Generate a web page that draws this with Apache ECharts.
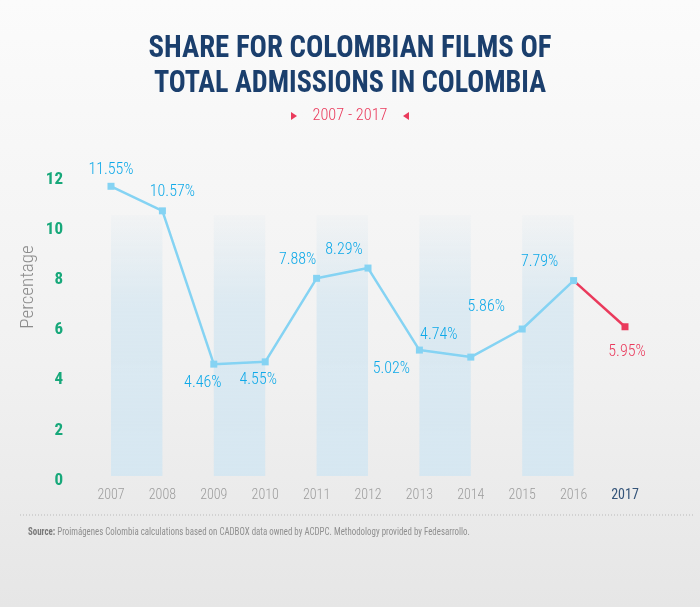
<!DOCTYPE html>
<html>
<head>
<meta charset="utf-8">
<script src="https://cdn.jsdelivr.net/npm/echarts@6/dist/echarts.min.js"></script>
<style>
  html, body { margin: 0; padding: 0; }
  #chart {
    width: 700px; height: 607px;
    background: linear-gradient(to bottom, #fbfbfb 0%, #f1f1f1 60%, #e6e6e6 100%);
  }
</style>
</head>
<body>
<div id="chart"></div>
<script>
// data
var years = ['2007', '2008', '2009', '2010', '2011', '2012', '2013', '2014', '2015', '2016', '2017'];
var shareMain = [11.55, 10.57, 4.46, 4.55, 7.88, 8.29, 5.02, 4.74, 5.86, 7.79, null];
var share2017 = [null, null, null, null, null, null, null, null, null, 7.79, 5.95];
var bandPairs = [['2007', '2008'], ['2009', '2010'], ['2011', '2012'], ['2013', '2014'], ['2015', '2016']];
var yTicks = { min: 0, max: 12, step: 2 };

// label placement (style only)
var labelPos = ['top', 'top', 'bottom', 'bottom', 'top', 'top', 'bottom', 'top', 'top', 'top', 'bottom'];
var labelOff = [[0, 0], [10, -2], [-11, 2], [-7, 2], [-19, -2], [-24, -2], [-28, 2], [-32, -6], [-36, -6], [-34, -2], [2, 9]];

var condensed = '"Roboto Condensed", "DejaVu Sans Condensed", sans-serif';
var blue = '#85d3f3';
var labelBlue = '#0fa9e8';
var red = '#ea3a5c';

var titleFont = 'bold 32px ' + condensed;
var subFont = '300 17px ' + condensed;
var srcFont = '11px ' + condensed;
var srcText = 'Source: Proimágenes Colombia calculations based on CADBOX data owned by ACDPC. Methodology provided by Fedesarrollo.';

// squeeze text to the widths seen in the picture
var ctx = document.createElement('canvas').getContext('2d');
function fitScale(txt, font, w) {
    ctx.font = font;
    return Math.min(1, w / ctx.measureText(txt).width);
}

var myChart = echarts.init(document.getElementById('chart'));

function pct(v) { return v.toFixed(2) + '%'; }

var mainData = shareMain.map(function (v, i) {
    if (v === null) return '-';
    return { value: v, label: { position: labelPos[i], offset: labelOff[i] } };
});

var redData = share2017.map(function (v, i) {
    if (v === null) return '-';
    if (i < share2017.length - 1) {
        return { value: v, symbolSize: 0, label: { show: false } };
    }
    return { value: v, label: { position: labelPos[i], offset: labelOff[i] } };
});

var option = {
    backgroundColor: 'transparent',
    animation: false,
    grid: { left: 111, right: 75, top: 175, bottom: 131 },
    xAxis: {
        type: 'category',
        data: years,
        boundaryGap: false,
        axisLine: { show: false },
        axisTick: { show: false },
        splitLine: { show: false },
        axisLabel: {
            interval: 0,
            margin: 12,
            fontFamily: condensed,
            fontWeight: 300,
            fontSize: 14,
            color: '#9c9c9c',
            formatter: function (v) { return v === '2017' ? '{last|' + v + '}' : v; },
            rich: {
                last: { color: '#35557a', fontWeight: 'normal', fontFamily: condensed, fontSize: 14 }
            }
        }
    },
    yAxis: {
        type: 'value',
        min: yTicks.min,
        max: yTicks.max,
        interval: yTicks.step,
        axisLine: { show: false },
        axisTick: { show: false },
        splitLine: { show: false },
        axisLabel: {
            margin: 48,
            verticalAlign: 'top',
            lineHeight: 9,
            color: '#17a87a',
            fontFamily: condensed,
            fontWeight: 'bold',
            fontSize: 17
        }
    },
    series: [
        {
            type: 'line',
            data: mainData,
            symbol: 'rect',
            symbolSize: 7,
            lineStyle: { color: blue, width: 2.5 },
            itemStyle: { color: blue },
            label: {
                show: true,
                color: labelBlue,
                fontFamily: condensed,
                fontWeight: 300,
                fontSize: 16,
                formatter: function (p) { return pct(p.value); }
            },
            markArea: {
                silent: true,
                itemStyle: {
                    color: new echarts.graphic.LinearGradient(0, 0, 0, 1, [
                        { offset: 0, color: 'rgba(214,231,241,0.1)' },
                        { offset: 0.35, color: 'rgba(214,231,241,0.8)' },
                        { offset: 1, color: 'rgba(214,231,241,1)' }
                    ])
                },
                data: bandPairs.map(function (p) {
                    return [{ xAxis: p[0], yAxis: 0 }, { xAxis: p[1], yAxis: 10.4 }];
                })
            },
            z: 3
        },
        {
            type: 'line',
            data: redData,
            symbol: 'rect',
            symbolSize: 7,
            lineStyle: { color: red, width: 2.5 },
            itemStyle: { color: red },
            label: {
                show: true,
                color: red,
                fontFamily: condensed,
                fontWeight: 300,
                fontSize: 16,
                formatter: function (p) { return pct(p.value); }
            },
            z: 2
        }
    ],
    graphic: [
        {
            type: 'text',
            x: 350, y: 49, scaleX: fitScale('SHARE FOR COLOMBIAN FILMS OF', titleFont, 403),
            style: {
                text: 'SHARE FOR COLOMBIAN FILMS OF',
                align: 'center', verticalAlign: 'middle',
                fill: '#1b3f6d', font: titleFont
            }
        },
        {
            type: 'text',
            x: 350, y: 84, scaleX: fitScale('TOTAL ADMISSIONS IN COLOMBIA', titleFont, 392),
            style: {
                text: 'TOTAL ADMISSIONS IN COLOMBIA',
                align: 'center', verticalAlign: 'middle',
                fill: '#1b3f6d', font: titleFont
            }
        },
        {
            type: 'text',
            x: 350, y: 116, scaleX: fitScale('2007 - 2017', subFont, 75),
            style: {
                text: '2007 - 2017',
                align: 'center', verticalAlign: 'middle',
                fill: red, font: subFont
            }
        },
        {
            type: 'polygon',
            shape: { points: [[291, 112], [297, 116], [291, 120]] },
            style: { fill: red }
        },
        {
            type: 'polygon',
            shape: { points: [[409, 112], [403, 116], [409, 120]] },
            style: { fill: red }
        },
        {
            type: 'text',
            x: 28, y: 287, rotation: Math.PI / 2,
            style: {
                text: 'Percentage',
                align: 'center', verticalAlign: 'middle',
                fill: '#8c8c8c', font: '300 19px ' + condensed
            }
        },
        {
            type: 'line',
            shape: { x1: 20, y1: 515, x2: 694, y2: 515 },
            style: { stroke: '#b9b9b9', lineWidth: 1, lineDash: [1, 2] }
        },
        {
            type: 'text',
            x: 28, y: 532, scaleX: fitScale(srcText, srcFont, 441),
            style: {
                text: '{b|Source:}' + srcText.slice(7),
                verticalAlign: 'middle',
                fill: '#8f8f8f',
                font: srcFont,
                rich: {
                    b: { fontWeight: 'bold', fill: '#7a7a7a', fontFamily: condensed, fontSize: 11 }
                }
            }
        }
    ]
};

if (option && typeof option === 'object') {
    myChart.setOption(option, true);
}
</script>
</body>
</html>
